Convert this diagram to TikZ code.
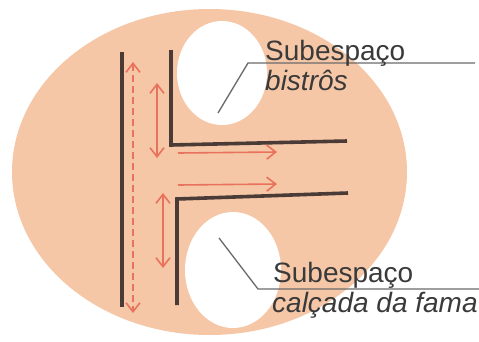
\documentclass[tikz,border=0pt]{standalone}
\usepackage{fontspec}
\setmainfont{Liberation Sans}
\usetikzlibrary{arrows.meta}

\definecolor{peach}{HTML}{F5C7A7}
\definecolor{wall}{HTML}{4A3B37}
\definecolor{flow}{HTML}{E9725C}
\definecolor{leadergray}{HTML}{6A6A6A}
\definecolor{labelgray}{HTML}{3A3A3A}

\tikzset{
  wallline/.style={draw=wall, line width=3.6pt, line cap=butt, line join=miter},
  barb/.tip={Straight Barb[length=9pt,width=14pt]},
  flowone/.style={draw=flow, line width=1.6pt, -barb},
  flowtwo/.style={draw=flow, line width=1.6pt, barb-barb},
  flowdash/.style={flowtwo, dash pattern=on 7pt off 4pt},
  leaderline/.style={draw=leadergray, line width=1.3pt},
  lbl/.style={text=labelgray, inner sep=0pt, anchor=base west,
    font=\fontsize{28}{30}\selectfont},
}

\begin{document}
\begin{tikzpicture}[x=1pt, y=-1pt]
  \useasboundingbox (0,0) rectangle (479,341);

  % site outline and the two open pockets
  \fill[peach] (209.5,172) ellipse [x radius=197.5, y radius=163];
  \fill[white] (222,73) ellipse [x radius=45, y radius=52];
  \fill[white] (233,270) ellipse [x radius=48, y radius=58];

  % walls
  \coordinate (wlTop) at (122,52);
  \coordinate (wlBot) at (122,307);
  \coordinate (uTop) at (171,50);
  \coordinate (uCorner) at (171,145);
  \coordinate (uEnd) at (347,141);
  \coordinate (lEnd) at (348,193);
  \coordinate (lCorner) at (177,199);
  \coordinate (lBot) at (177,305);
  \draw[wallline] (wlTop) -- (wlBot);
  \draw[wallline] (uTop) -- (uCorner) -- (uEnd);
  \draw[wallline] (lEnd) -- (lCorner) -- (lBot);

  % circulation
  \coordinate (dTop) at (133,62);
  \coordinate (dBot) at (133,313);
  \coordinate (sATop) at (157,83);
  \coordinate (sABot) at (157,158);
  \coordinate (sBTop) at (163,193);
  \coordinate (sBBot) at (163,268);
  \coordinate (hAStart) at (178,153);
  \coordinate (hAEnd) at (277,152);
  \coordinate (hBStart) at (178,185);
  \coordinate (hBEnd) at (277,184);
  \draw[flowdash] (dTop) -- (dBot);
  \draw[flowtwo] (sATop) -- (sABot);
  \draw[flowtwo] (sBTop) -- (sBBot);
  \draw[flowone] (hAStart) -- (hAEnd);
  \draw[flowone] (hBStart) -- (hBEnd);

  % leaders
  \coordinate (tPoint) at (218,113);
  \coordinate (tKnee) at (248,63);
  \coordinate (tEnd) at (475,63);
  \coordinate (bPoint) at (219,238);
  \coordinate (bKnee) at (258,289);
  \coordinate (bEnd) at (479,289);
  \draw[leaderline] (tPoint) -- (tKnee) -- (tEnd);
  \draw[leaderline] (bPoint) -- (bKnee) -- (bEnd);

  % labels
  \node[lbl] (subA) at (265,60) {Subespaço};
  \node[lbl] (nameA) at (265,90) {\itshape bistrôs};
  \node[lbl] (subB) at (273,282) {Subespaço};
  \node[lbl] (nameB) at (272,312) {\itshape calçada da fama};
\end{tikzpicture}
\end{document}
